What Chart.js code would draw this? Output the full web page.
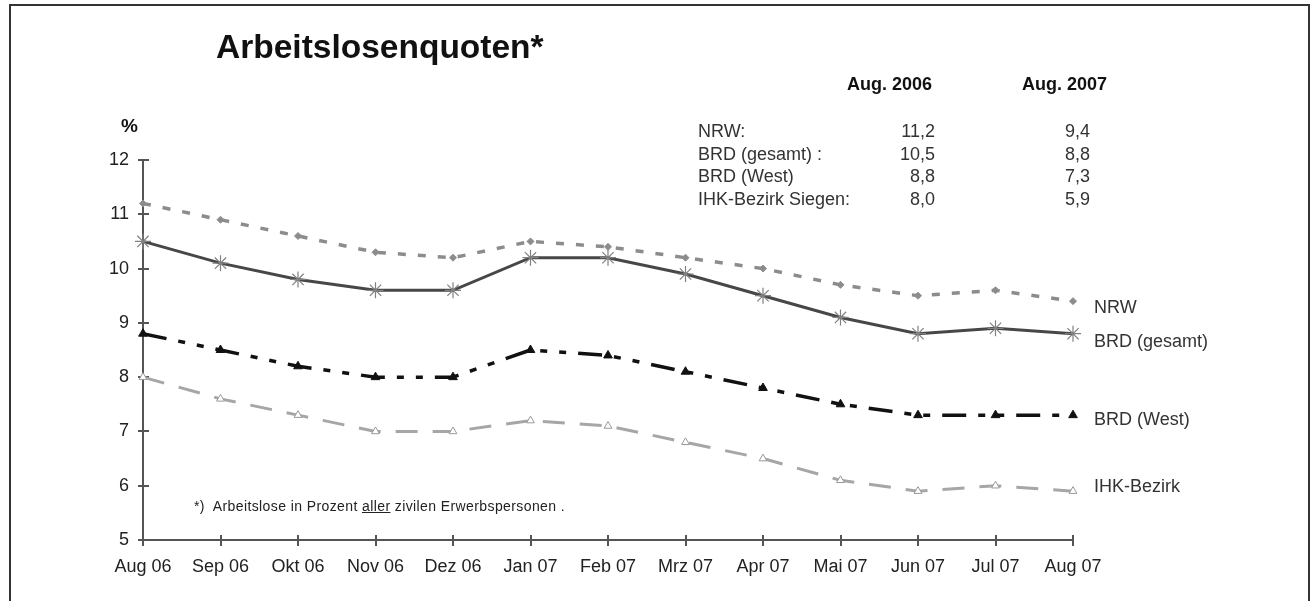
<!DOCTYPE html>
<html>
<head>
<meta charset="utf-8">
<script src="https://cdn.jsdelivr.net/npm/chart.js@4/dist/chart.umd.min.js"></script>
<style>
  html, body { margin: 0; padding: 0; background: #fff; }
  body { width: 1313px; height: 601px; position: relative; overflow: hidden; font-family: "Liberation Sans", Arial, sans-serif; color: #222; }
  #frame { position: absolute; left: 9px; top: 4px; width: 1297px; height: 620px; border: 2px solid #333; border-bottom: none; box-sizing: content-box; }
  canvas { position: absolute; left: 0; top: 0; }
  .t { position: absolute; white-space: nowrap; }
  #title { left: 216px; top: 27px; font-size: 33.5px; line-height: 40px; font-weight: bold; color: #111; }
  #pct { left: 121px; top: 116px; font-size: 19px; line-height: 20px; font-weight: bold; color: #111; }
  .hd { top: 73px; font-size: 18px; line-height: 22px; font-weight: bold; color: #111; width: 120px; text-align: right; }
  .col { top: 120px; font-size: 18px; line-height: 22.7px; color: #333; }
  .num { width: 80px; text-align: right; }
  #note { left: 194px; top: 498px; font-size: 14px; line-height: 16px; letter-spacing: 0.4px; color: #222; }
</style>
</head>
<body>
<div id="frame"></div>
<canvas id="chart" width="1313" height="601"></canvas>
<div class="t" id="title">Arbeitslosenquoten*</div>
<div class="t" id="pct">%</div>
<div class="t hd" style="left:812px">Aug. 2006</div>
<div class="t hd" style="left:987px">Aug. 2007</div>
<div class="t col" id="rowNames" style="left:698px"></div>
<div class="t col num" id="col2006" style="left:855px"></div>
<div class="t col num" id="col2007" style="left:1010px"></div>
<div class="t" id="note">*)&nbsp; Arbeitslose in Prozent <u>aller</u> zivilen Erwerbspersonen .</div>
<script>
const months = ['Aug 06', 'Sep 06', 'Okt 06', 'Nov 06', 'Dez 06', 'Jan 07', 'Feb 07', 'Mrz 07', 'Apr 07', 'Mai 07', 'Jun 07', 'Jul 07', 'Aug 07'];
const nrw = [11.2, 10.9, 10.6, 10.3, 10.2, 10.5, 10.4, 10.2, 10.0, 9.7, 9.5, 9.6, 9.4];
const brdGesamt = [10.5, 10.1, 9.8, 9.6, 9.6, 10.2, 10.2, 9.9, 9.5, 9.1, 8.8, 8.9, 8.8];
const brdWest = [8.8, 8.5, 8.2, 8.0, 8.0, 8.5, 8.4, 8.1, 7.8, 7.5, 7.3, 7.3, 7.3];
const ihk = [8.0, 7.6, 7.3, 7.0, 7.0, 7.2, 7.1, 6.8, 6.5, 6.1, 5.9, 6.0, 5.9];
const endLabels = ['NRW', 'BRD (gesamt)', 'BRD (West)', 'IHK-Bezirk'];
const tableNames = ['NRW:', 'BRD (gesamt) :', 'BRD (West)', 'IHK-Bezirk Siegen:'];
const tableAug2006 = ['11,2', '10,5', '8,8', '8,0'];
const tableAug2007 = ['9,4', '8,8', '7,3', '5,9'];

document.getElementById('rowNames').innerHTML = tableNames.join('<br>');
document.getElementById('col2006').innerHTML = tableAug2006.join('<br>');
document.getElementById('col2007').innerHTML = tableAug2007.join('<br>');

const FONT = '"Liberation Sans", Arial, sans-serif';
const labelOffsets = [7, 8, 5, -4];

// little cross ticks on both axes, like the old Excel look
const crossTicks = {
  id: 'crossTicks',
  beforeDatasetsDraw(chart) {
    const { ctx, scales: { x, y }, chartArea } = chart;
    ctx.save();
    ctx.strokeStyle = '#555';
    ctx.lineWidth = 2;
    ctx.beginPath();
    y.ticks.forEach(t => {
      const py = Math.round(y.getPixelForValue(t.value));
      ctx.moveTo(chartArea.left - 5, py);
      ctx.lineTo(chartArea.left + 6, py);
    });
    months.forEach((m, i) => {
      const px = Math.round(x.getPixelForValue(i));
      ctx.moveTo(px, chartArea.bottom - 5);
      ctx.lineTo(px, chartArea.bottom + 6);
    });
    ctx.stroke();
    ctx.restore();
  }
};

const endText = {
  id: 'endText',
  afterDatasetsDraw(chart) {
    const ctx = chart.ctx;
    ctx.save();
    ctx.font = '18px ' + FONT;
    ctx.fillStyle = '#333';
    ctx.textAlign = 'left';
    ctx.textBaseline = 'middle';
    chart.data.datasets.forEach((ds, i) => {
      const pts = chart.getDatasetMeta(i).data;
      const last = pts[pts.length - 1];
      ctx.fillText(endLabels[i], last.x + 21, last.y + labelOffsets[i]);
    });
    ctx.restore();
  }
};

new Chart(document.getElementById('chart'), {
  type: 'line',
  data: { labels: months, datasets: [
    { label: endLabels[0], data: nrw, borderColor: '#8c8c8c', borderWidth: 3.5, borderDash: [8, 12],
      pointStyle: 'rectRot', pointRadius: 3.5, pointBackgroundColor: '#8c8c8c', pointBorderColor: '#8c8c8c', pointBorderWidth: 1 },
    { label: endLabels[1], data: brdGesamt, borderColor: '#474747', borderWidth: 3,
      pointStyle: 'star', pointRadius: 8, pointBorderColor: '#808080', pointBackgroundColor: '#808080', pointBorderWidth: 1.2 },
    { label: endLabels[2], data: brdWest, borderColor: '#111', borderWidth: 3.5, borderDash: [24, 12, 7, 12, 7, 12],
      pointStyle: 'triangle', pointRadius: 5, pointBackgroundColor: '#111', pointBorderColor: '#111', pointBorderWidth: 1 },
    { label: endLabels[3], data: ihk, borderColor: '#a6a6a6', borderWidth: 3, borderDash: [22, 15],
      pointStyle: 'triangle', pointRadius: 4.5, pointBackgroundColor: '#fff', pointBorderColor: '#999', pointBorderWidth: 1 }
  ] },
  options: {
    responsive: false, animation: false,
    layout: { padding: { left: 0, top: 160, right: 240, bottom: 0 } },
    elements: { line: { tension: 0, fill: false } },
    plugins: { legend: { display: false }, tooltip: { enabled: false } },
    scales: {
      x: {
        grid: { display: false, drawTicks: false },
        border: { display: true, color: '#555', width: 2 },
        ticks: { color: '#222', font: { size: 18, family: FONT }, padding: 16, maxRotation: 0, autoSkip: false },
        afterFit: s => { s.height = 61; }
      },
      y: {
        min: 5, max: 12,
        grid: { display: false, drawTicks: false },
        border: { display: true, color: '#555', width: 2 },
        ticks: { stepSize: 1, color: '#222', font: { size: 18, family: FONT }, padding: 14 },
        afterFit: s => { s.width = 143; }
      }
    }
  },
  plugins: [crossTicks, endText]
});
</script>
</body>
</html>
